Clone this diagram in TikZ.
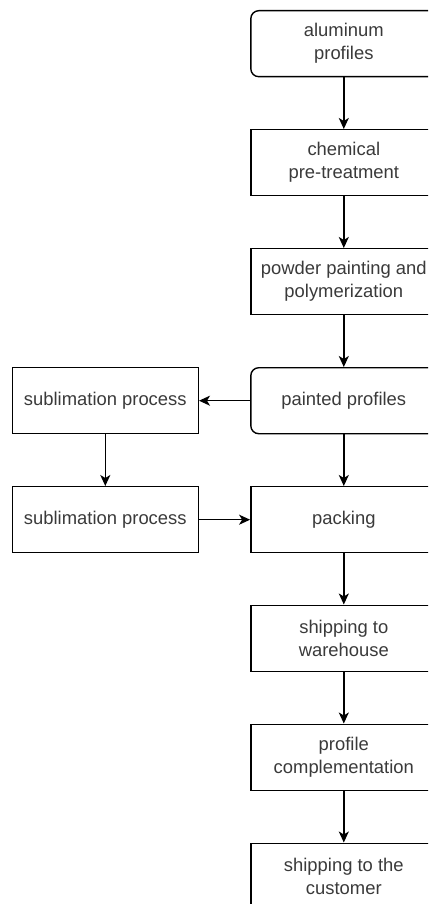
\documentclass[tikz,border=0pt]{standalone}
\usepackage{fontspec}
\setmainfont{Liberation Sans}
\usetikzlibrary{arrows.meta}
\definecolor{txt}{HTML}{3A3A3A}
\tikzset{
  box/.style={draw=black, line width=1.4pt, rectangle, minimum width=186pt, minimum height=66pt,
    align=center, text=txt, font=\fontsize{18.4}{23}\selectfont, inner sep=0pt},
  rbox/.style={box, rounded corners=8pt},
  flow/.style={draw=black, line width=1.4pt, -{Stealth[length=11pt,width=10pt,inset=3pt]}}
}
\begin{document}
\begin{tikzpicture}[x=1pt,y=-1pt]
\useasboundingbox (0,0) rectangle (428,904);
\clip (0,0) rectangle (428,904);
\fill[white] (0,0) rectangle (428,904);
\node[rbox] (alu) at (343.8,43.7) {aluminum\\profiles};
\node[box] (chem) at (343.8,162.7) {chemical\\pre-treatment};
\node[box] (powder) at (343.8,281.7) {powder painting and\\polymerization};
\node[rbox] (painted) at (343.8,400.7) {painted profiles};
\node[box] (pack) at (343.8,519.7) {packing};
\node[box] (ware) at (343.8,638.2) {shipping to\\warehouse};
\node[box] (comp) at (343.8,757.2) {profile\\complementation};
\node[box] (cust) at (343.8,876.2) {shipping to the\\customer};
\node[box] (sub1) at (105.3,400.7) {sublimation process};
\node[box] (sub2) at (105.3,519.7) {sublimation process};
\draw[flow] (alu) -- (chem);
\draw[flow] (chem) -- (powder);
\draw[flow] (powder) -- (painted);
\draw[flow] (painted) -- (pack);
\draw[flow] (pack) -- (ware);
\draw[flow] (ware) -- (comp);
\draw[flow] (comp) -- (cust);
\draw[flow] (painted) -- (sub1);
\draw[flow] (sub1) -- (sub2);
\draw[flow] (sub2) -- (pack);
\end{tikzpicture}
\end{document}
